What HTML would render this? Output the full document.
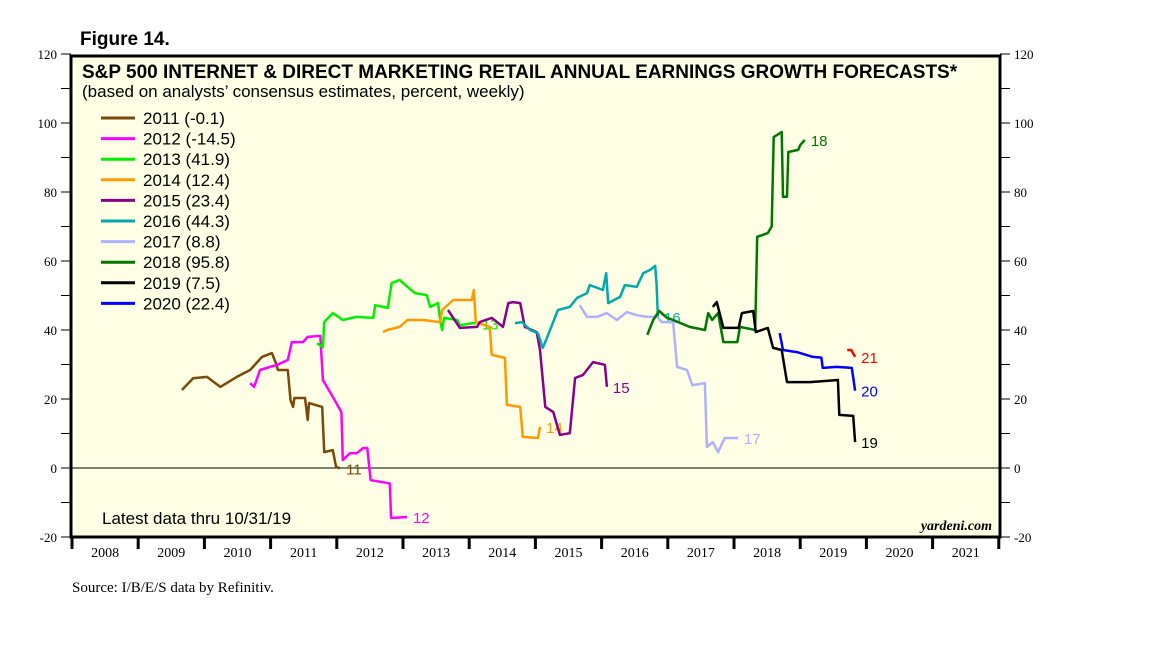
<!DOCTYPE html>
<html><head><meta charset="utf-8"><style>
body{margin:0;background:#fff;width:1152px;height:648px;overflow:hidden;font-family:"Liberation Sans",sans-serif}
svg{position:absolute;left:0;top:0}
</style></head><body>
<svg id="chart" width="1152" height="648" xmlns="http://www.w3.org/2000/svg">
<text x="80" y="45" font-size="19" font-weight="bold">Figure 14.</text>
<rect x="71" y="56" width="929" height="481" fill="#ffffe6"/>
<g id="axes"></g>
<g id="series"></g>
<rect x="71" y="56" width="929" height="481" fill="none" stroke="#000" stroke-width="3"/>
<text x="82" y="78" font-size="19" font-weight="bold">S&amp;P 500 INTERNET &amp; DIRECT MARKETING RETAIL ANNUAL EARNINGS GROWTH FORECASTS*</text>
<text x="82" y="97" font-size="17">(based on analysts’ consensus estimates, percent, weekly)</text>
<g id="legend"></g>
<text x="102" y="524" font-size="17">Latest data thru  10/31/19</text>
<text x="992" y="530" font-size="14" font-weight="bold" font-style="italic" font-family="Liberation Serif,serif" text-anchor="end">yardeni.com</text>
<text x="72" y="592" font-size="15" font-family="Liberation Serif,serif">Source: I/B/E/S data by Refinitiv.</text>
</svg>
<script>
const yearTicks=[2008,2009,2010,2011,2012,2013,2014,2015,2016,2017,2018,2019,2020,2021];
const yTicks=[-20,0,20,40,60,80,100,120];
const seriesNames=["2011","2012","2013","2014","2015","2016","2017","2018","2019","2020","2021"];
const seriesColors=["#7a4a0a","#ff00ff","#00ee00","#ff9900","#8b008b","#00aaaa","#b0b0ff","#007700","#000000","#0000ff","#ff0000"];
const legendText=["2011 (-0.1)","2012 (-14.5)","2013 (41.9)","2014 (12.4)","2015 (23.4)","2016 (44.3)","2017 (8.8)","2018 (95.8)","2019 (7.5)","2020 (22.4)"];
const endLabels=["11","12","13","14","15","16","17","18","19","20","21"];
const s2011=[[2009.66,22.6],[2009.83,26],[2010.04,26.4],[2010.24,23.5],[2010.49,26.4],[2010.69,28.4],[2010.87,32.2],[2011.02,33.3],[2011.08,30.4],[2011.11,28.4],[2011.26,28.4],[2011.3,19.7],[2011.34,17.7],[2011.36,20.3],[2011.52,20.3],[2011.56,13.9],[2011.58,18.8],[2011.78,17.7],[2011.81,4.6],[2011.94,5.2],[2011.99,0.3],[2012.05,-0.1]];
const s2012=[[2010.69,24.6],[2010.75,23.5],[2010.84,28.4],[2010.99,29.3],[2011.1,29.9],[2011.26,31.3],[2011.32,36.5],[2011.49,36.5],[2011.56,38],[2011.75,38.3],[2011.79,25.5],[2011.94,20.6],[2012.07,16.2],[2012.09,2.3],[2012.2,4.3],[2012.3,4.3],[2012.4,5.8],[2012.46,5.8],[2012.51,-3.5],[2012.66,-4],[2012.8,-4.5],[2012.82,-14.5],[2013.06,-14.2]];
const s2013=[[2011.7,36.2],[2011.79,35],[2011.81,42.3],[2011.94,44.9],[2012.09,42.9],[2012.3,43.8],[2012.55,43.5],[2012.58,47.2],[2012.77,46.4],[2012.83,53.6],[2012.95,54.5],[2013.07,52.5],[2013.18,50.7],[2013.36,50.1],[2013.41,46.7],[2013.53,47.8],[2013.56,42.9],[2013.59,40],[2013.62,43.5],[2013.82,42.9],[2013.86,41.4],[2014.06,42],[2014.1,41.9]];
const s2014=[[2012.7,39.4],[2012.76,40],[2012.95,40.9],[2013.07,42.9],[2013.3,42.9],[2013.56,42.3],[2013.59,45.8],[2013.76,48.7],[2014.04,48.7],[2014.07,51.6],[2014.1,42.3],[2014.31,40.9],[2014.34,32.8],[2014.54,31.9],[2014.57,18.3],[2014.77,17.7],[2014.81,9],[2015.04,8.7],[2015.07,11.9]];
const s2015=[[2013.68,45.8],[2013.86,40.6],[2014.12,40.9],[2014.16,42.3],[2014.34,43.5],[2014.51,40.9],[2014.59,47.8],[2014.66,48.1],[2014.77,47.8],[2014.84,40.9],[2015.02,39.4],[2015.07,34.2],[2015.15,17.7],[2015.27,16.2],[2015.37,9.6],[2015.52,10.1],[2015.6,26.1],[2015.72,27],[2015.87,30.7],[2016.05,29.9],[2016.08,23.5]];
const s2016=[[2014.69,42],[2014.8,42.3],[2014.92,40],[2015.04,39],[2015.11,34.8],[2015.17,37.5],[2015.34,45.8],[2015.52,46.7],[2015.63,49.3],[2015.78,50.7],[2015.82,53],[2016.02,51.6],[2016.07,56.5],[2016.1,47.8],[2016.28,49.6],[2016.35,53],[2016.53,52.5],[2016.63,56.5],[2016.73,57.4],[2016.81,58.6],[2016.83,53.6],[2016.85,43.8]];
const s2017=[[2015.67,47.2],[2015.78,43.8],[2015.93,43.8],[2016.08,44.9],[2016.23,42.9],[2016.38,45.2],[2016.53,44.3],[2016.69,43.8],[2016.84,43.8],[2016.91,42.3],[2017.08,42.3],[2017.14,29.3],[2017.29,28.4],[2017.37,24],[2017.56,24.6],[2017.59,6.1],[2017.68,7.5],[2017.76,4.6],[2017.86,8.7],[2018.06,8.7]];
const s2018=[[2016.69,38.6],[2016.78,42.9],[2016.87,45.5],[2016.99,43.5],[2017.08,42.9],[2017.33,40.9],[2017.56,40],[2017.61,44.9],[2017.67,42.9],[2017.76,44.9],[2017.84,36.5],[2018.05,36.5],[2018.09,40.9],[2018.32,40],[2018.35,67],[2018.51,68.1],[2018.57,70],[2018.6,95.9],[2018.72,97.4],[2018.74,78.6],[2018.8,78.6],[2018.82,91.6],[2018.97,92.2],[2019.0,93.6],[2019.07,95.1]];
const s2019=[[2017.68,46.7],[2017.74,48.1],[2017.84,40.6],[2018.07,40.6],[2018.12,44.9],[2018.29,45.5],[2018.33,39.4],[2018.51,40.6],[2018.59,34.8],[2018.72,34.2],[2018.8,24.9],[2019.15,24.9],[2019.57,25.5],[2019.59,15.4],[2019.8,15.1],[2019.83,7.5]];
const s2020=[[2018.69,39.1],[2018.74,34.2],[2018.95,33.6],[2019.19,32.2],[2019.32,32],[2019.34,29],[2019.55,29.3],[2019.78,29],[2019.83,22.4]];
const s2021=[[2019.71,34.2],[2019.77,34.2],[2019.83,32.2]];
const allSeries=[s2011,s2012,s2013,s2014,s2015,s2016,s2017,s2018,s2019,s2020,s2021];
const NS="http://www.w3.org/2000/svg";
const X0=72,PXY=66.2;
function xs(t){return X0+(t-2008)*PXY;}
function ys(v){return 468-v*3.45;}
function mk(tag,attrs,parent){const e=document.createElementNS(NS,tag);for(const k in attrs)e.setAttribute(k,attrs[k]);parent.appendChild(e);return e;}
const axes=document.getElementById('axes');
const zl=mk('line',{x1:71,x2:1000,y1:ys(0),y2:ys(0),stroke:'#000','stroke-width':1},axes);


for(let v=-20;v<=120;v+=10){
  const y=ys(v);
  mk('line',{x1:61,x2:71,y1:y,y2:y,stroke:'#000','stroke-width':1},axes);
  mk('line',{x1:1000,x2:1010,y1:y,y2:y,stroke:'#000','stroke-width':1},axes);
}
yTicks.forEach(v=>{
  const y=ys(v)+5;
  const l=mk('text',{x:57,y:y,'font-size':13,'text-anchor':'end','font-family':'Liberation Serif,serif'},axes);
  l.textContent=v;
  
  
  const r=mk('text',{x:1014,y:y,'font-size':13,'font-family':'Liberation Serif,serif'},axes);
  r.textContent=v;
  
  
});
yearTicks.forEach(yr=>{
  const x=xs(yr);
  mk('line',{x1:x,x2:x,y1:537,y2:549,stroke:'#000','stroke-width':3},axes);
  const t=mk('text',{x:x+PXY/2,y:557,'font-size':14,'text-anchor':'middle','font-family':'Liberation Serif,serif'},axes);
  t.textContent=yr;
  
  
});
mk('line',{x1:xs(2022),x2:xs(2022),y1:537,y2:549,stroke:'#000','stroke-width':3},axes);
const sg=document.getElementById('series');
allSeries.forEach((s,i)=>{
  const p=mk('polyline',{points:s.map(d=>xs(d[0]).toFixed(1)+','+ys(d[1]).toFixed(1)).join(' '),fill:'none',stroke:seriesColors[i],'stroke-width':2.5,'stroke-linejoin':'round'},sg);
  
  
  const last=s[s.length-1];
  const lb=mk('text',{x:xs(last[0])+6,y:ys(last[1])+6,'font-size':15,fill:seriesColors[i]},sg);
  lb.textContent=endLabels[i];
  
  
});
const lg=document.getElementById('legend');
legendText.forEach((t,i)=>{
  const y=118+i*20.6;
  const ln=mk('line',{x1:101,x2:135,y1:y,y2:y,stroke:seriesColors[i],'stroke-width':3},lg);
  
  
  const tx=mk('text',{x:143,y:y+6,'font-size':17},lg);
  tx.textContent=t;
  
  
});
</script>
</body></html>
